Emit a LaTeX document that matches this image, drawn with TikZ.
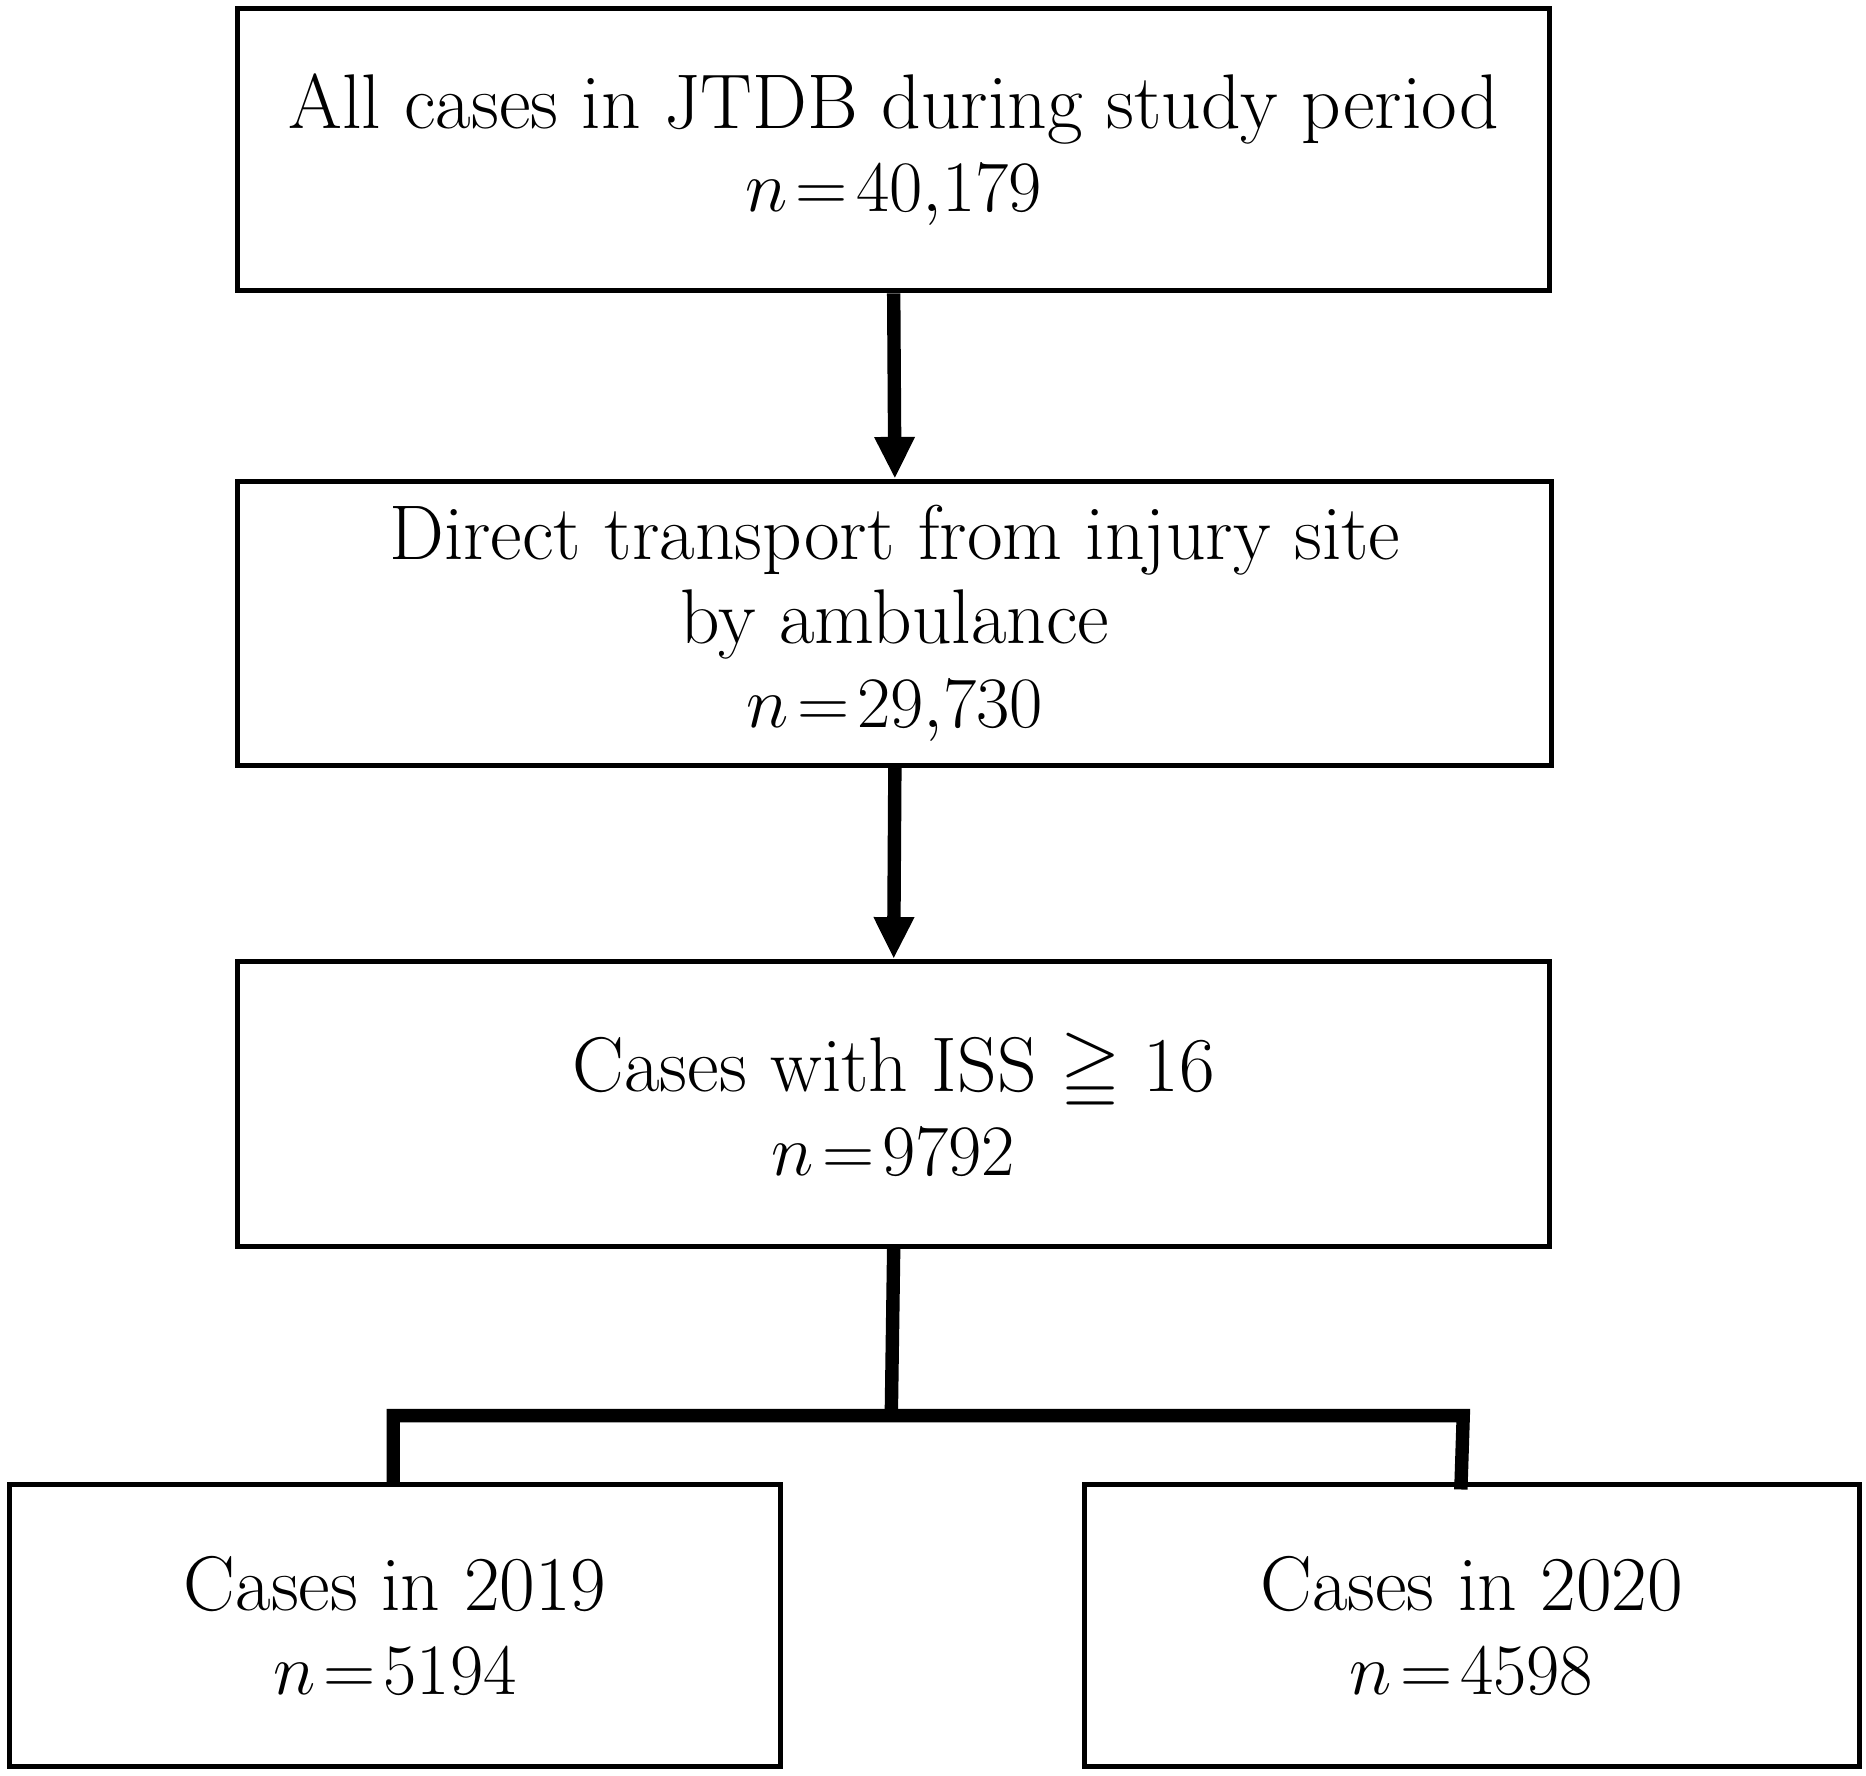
\documentclass[tikz,border=0pt]{standalone}
\usepackage{amssymb}
\usetikzlibrary{arrows.meta}
\begin{document}
\begin{tikzpicture}[x=0.01cm,y=-0.01cm,
 box/.style={draw=black,line width=1.2pt,align=center,font=\fontsize{18.5}{20}\selectfont,inner sep=0pt},
 conn/.style={line width=3.2pt},
 arr/.style={conn,-{Triangle[length=10pt,width=9pt]}}]
\useasboundingbox (0,0) rectangle (1566,1490);
\node[box,minimum width=11cm,minimum height=2.37cm] (a) at (750,125.5) {All cases in JTDB during study period\\ $n\!=\!40{,}179$};
\node[box,minimum width=11.02cm,minimum height=2.38cm] (b) at (751,523) {Direct transport from injury site\\ by ambulance\\ $n\!=\!29{,}730$};
\node[box,minimum width=11cm,minimum height=2.39cm] (c) at (750,926.5) {Cases with ISS $\geqq$ 16\\ $n\!=\!9792$};
\node[box,minimum width=6.47cm,minimum height=2.36cm] (d) at (331.5,1364) {Cases in 2019\\ $n\!=\!5194$};
\node[box,minimum width=6.5cm,minimum height=2.36cm] (e) at (1235,1364) {Cases in 2020\\ $n\!=\!4598$};
\coordinate (j) at (748,1188);
\draw[arr] (a.south) -- (b.north);
\draw[arr] (b.south) -- (c.north);
\draw[conn] (c.south) -- (j);
\draw[conn] (330,1246) -- (330,1188) -- (1228,1188) -- (1226,1250);
\end{tikzpicture}
\end{document}
